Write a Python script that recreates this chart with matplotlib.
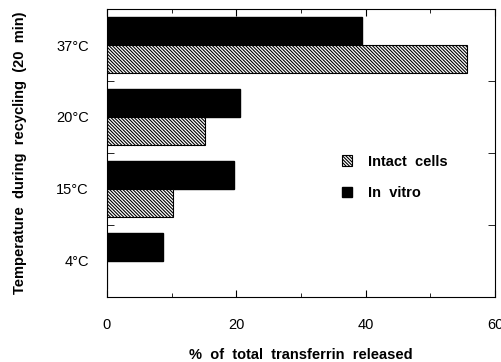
import numpy as np
import matplotlib
matplotlib.use("Agg")
import matplotlib.pyplot as plt

plt.rcParams['font.family'] = ['Liberation Sans', 'DejaVu Sans']
plt.rcParams['hatch.linewidth'] = 0.8

temps = ["4°C", "15°C", "20°C", "37°C"]
in_vitro = [8.7, 19.7, 20.5, 39.4]
intact_cells = [0, 10.2, 15.2, 55.7]

pos = np.arange(len(temps))
h = 0.39

fig = plt.figure(figsize=(5.02, 3.62), dpi=100)
ax = fig.add_axes([0.213, 0.180, 0.773, 0.795])

ax.barh(pos + h / 2, in_vitro, height=h, color="black", edgecolor="black",
        label="In  vitro")
ax.barh(pos - h / 2, intact_cells, height=h, color="white", edgecolor="black",
        hatch="\\" * 10, linewidth=0.8, label="Intact  cells")

ax.set_xlim(0, 60)
ax.set_ylim(-0.5, 3.5)
ax.set_xticks([0, 20, 40, 60])
ax.set_xticks([10, 30, 50], minor=True)
ax.set_yticks(pos)
ax.set_yticklabels(temps)
ax.set_yticks([0.5, 1.5, 2.5], minor=True)

ax.tick_params(axis="x", which="both", direction="in", top=True, labelsize=10.5, pad=15)
ax.tick_params(axis="x", which="major", length=5)
ax.tick_params(axis="x", which="minor", length=3)
ax.tick_params(axis="y", which="major", length=0, labelsize=10.5, pad=13)
ax.tick_params(axis="y", which="minor", direction="in", right=True, length=5)

for s in ax.spines.values():
    s.set_linewidth(0.8)

ax.set_xlabel("%  of  total  transferrin  released", fontsize=10.5,
              fontweight="bold", labelpad=12)
ax.set_ylabel("Temperature  during  recycling  (20  min)", fontsize=10.5,
              fontweight="bold", labelpad=21)

handles, labels = ax.get_legend_handles_labels()
leg = ax.legend(handles[::-1], labels[::-1], loc="center left",
                bbox_to_anchor=(0.572, 0.415), frameon=False,
                handlelength=0.7, handleheight=0.7, labelspacing=1.2,
                handletextpad=1.05, prop={"weight": "bold", "size": 10.5})

fig.savefig("out.png", dpi=100)
